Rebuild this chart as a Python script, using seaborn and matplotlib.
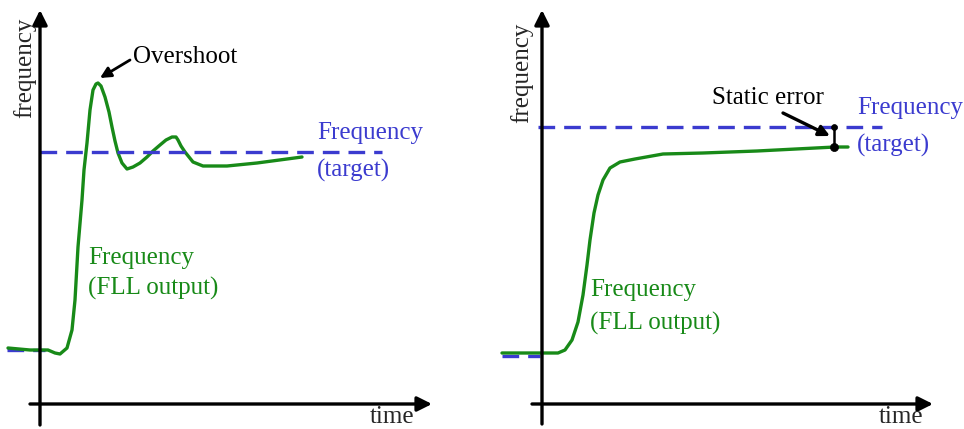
import numpy as np
import pandas as pd
import matplotlib
matplotlib.use("Agg")
import matplotlib.pyplot as plt
import seaborn as sns

# left panel: FLL output with overshoot
left_t = [-3.2, -1.0, 0.0, 0.8, 1.5, 2.0, 2.7, 3.2, 3.5, 3.8, 4.2, 4.4, 4.7, 5.0, 5.3,
          5.6, 5.8, 6.1, 6.5, 6.9, 7.2, 7.5, 7.8, 8.2, 8.7, 9.3, 10.0, 10.7, 11.3, 12.0,
          12.6, 13.2, 13.6, 13.8, 14.1, 14.5, 14.9, 15.3, 15.8, 16.3, 18.7, 21.7, 26.2]
left_f = [5.6, 5.4, 5.4, 5.4, 5.1, 5.0, 5.6, 7.4, 10.4, 15.7, 20.4, 23.4, 26.1, 29.4, 31.4,
          32.0, 32.1, 31.8, 30.7, 29.2, 27.7, 26.3, 25.1, 24.1, 23.5, 23.7, 24.1, 24.7, 25.3, 25.9,
          26.4, 26.7, 26.7, 26.4, 25.8, 25.2, 24.7, 24.2, 24.0, 23.8, 23.8, 24.1, 24.7]
left_target_pre_t = [-3.3, 0.5]
left_target_pre_f = [5.4, 5.4]
left_target_t = [0.0, 34.2]
left_target_f = [25.2, 25.2]

# right panel: FLL output with static error
right_t = [-4.0, -0.2, 1.6, 2.3, 3.0, 3.6, 4.1, 4.5, 4.8, 5.2, 5.6, 6.1, 6.8, 7.8, 9.3,
           12.1, 16.1, 21.5, 29.3, 30.6]
right_f = [5.1, 5.1, 5.1, 5.4, 6.4, 8.2, 10.9, 13.9, 16.4, 19.1, 20.9, 22.4, 23.6, 24.2, 24.5,
           25.0, 25.1, 25.3, 25.7, 25.7]
right_target_pre_t = [-4.0, -0.2]
right_target_pre_f = [4.8, 4.8]
right_target_t = [-0.4, 34.0]
right_target_f = [27.7, 27.7]
err_t = [29.2, 29.2]
err_f = [27.7, 25.7]

GREEN = "#188a18"
BLUE = "#3b3bcf"

sns.set_style("white")
plt.rcParams["font.family"] = ["Liberation Serif", "DejaVu Serif"]

fig = plt.figure(figsize=(9.64, 4.29), dpi=100)
axL = fig.add_axes([0, 0, 480 / 964, 1])
axR = fig.add_axes([490 / 964, 0, 474 / 964, 1])
axL.set_xlim(-4, 44)
axL.set_ylim(-2.5, 40.4)
axR.set_xlim(-5.2, 42.2)
axR.set_ylim(-2.5, 40.4)

dash = (5, 2.7)
fs = 18


def draw_axes(ax, xmin, xmax, ymin, ymax, ylab_pos, time_pos):
    arrow = dict(arrowstyle="-|>", lw=2.4, color="black", mutation_scale=22,
                 shrinkA=0, shrinkB=0)
    ax.annotate("", xy=(xmax, 0), xytext=(xmin, 0), arrowprops=arrow)
    ax.annotate("", xy=(0, ymax), xytext=(0, ymin), arrowprops=arrow)
    ax.text(*ylab_pos, "frequency", rotation=90, ha="center", va="center", fontsize=fs)
    ax.text(*time_pos, "time", ha="center", va="center", fontsize=fs)
    ax.set_axis_off()


def line(ax, x, y, color, ls="-", lw=2.4):
    sns.lineplot(x=x, y=y, ax=ax, color=color, lw=lw, linestyle=ls,
                 sort=False, estimator=None, solid_capstyle="round")


# left
draw_axes(axL, -1.0, 39.2, -2.1, 39.4, (-1.5, 33.6), (35.2, -1.3))
line(axL, left_target_pre_t, left_target_pre_f, BLUE, (0, dash))
line(axL, left_t, left_f, GREEN)
line(axL, left_target_t, left_target_f, BLUE, (0, dash))
axL.text(27.7, 27.1, "Frequency", color=BLUE, fontsize=fs, va="center")
axL.text(27.7, 23.4, "(target)", color=BLUE, fontsize=fs, va="center")
axL.text(4.8, 14.6, "Frequency", color=GREEN, fontsize=fs, va="center")
axL.text(4.8, 11.6, "(FLL output)", color=GREEN, fontsize=fs, va="center")
axL.text(9.3, 34.7, "Overshoot", color="black", fontsize=fs, va="center")
axL.annotate("", xy=(6.0, 32.6), xytext=(9.0, 34.4),
             arrowprops=dict(arrowstyle="-|>", lw=2, color="black", mutation_scale=16,
                             shrinkA=0, shrinkB=0))

# right
draw_axes(axR, -1.0, 39.1, -2.0, 39.4, (-2.0, 33.1), (35.9, -1.3))
line(axR, right_target_pre_t, right_target_pre_f, BLUE, (0, dash))
line(axR, right_t, right_f, GREEN)
line(axR, right_target_t, right_target_f, BLUE, (0, dash))
line(axR, err_t, err_f, "black", lw=1.8)
sns.scatterplot(x=err_t[:1], y=err_f[:1], ax=axR, color="black", s=18, zorder=5,
                edgecolor="black", linewidth=0.5)
sns.scatterplot(x=err_t[1:], y=err_f[1:], ax=axR, color="black", s=34, zorder=5,
                edgecolor="black", linewidth=0.5)
axR.text(31.5, 29.6, "Frequency", color=BLUE, fontsize=fs, va="center")
axR.text(31.5, 25.9, "(target)", color=BLUE, fontsize=fs, va="center")
axR.text(4.8, 11.4, "Frequency", color=GREEN, fontsize=fs, va="center")
axR.text(4.8, 8.1, "(FLL output)", color=GREEN, fontsize=fs, va="center")
axR.text(22.6, 30.6, "Static error", color="black", fontsize=fs, ha="center", va="center")
axR.annotate("", xy=(28.8, 26.8), xytext=(24.1, 29.1),
             arrowprops=dict(arrowstyle="-|>", lw=2.4, color="black", mutation_scale=16,
                             shrinkA=0, shrinkB=0))

fig.savefig("out.png", dpi=100)
